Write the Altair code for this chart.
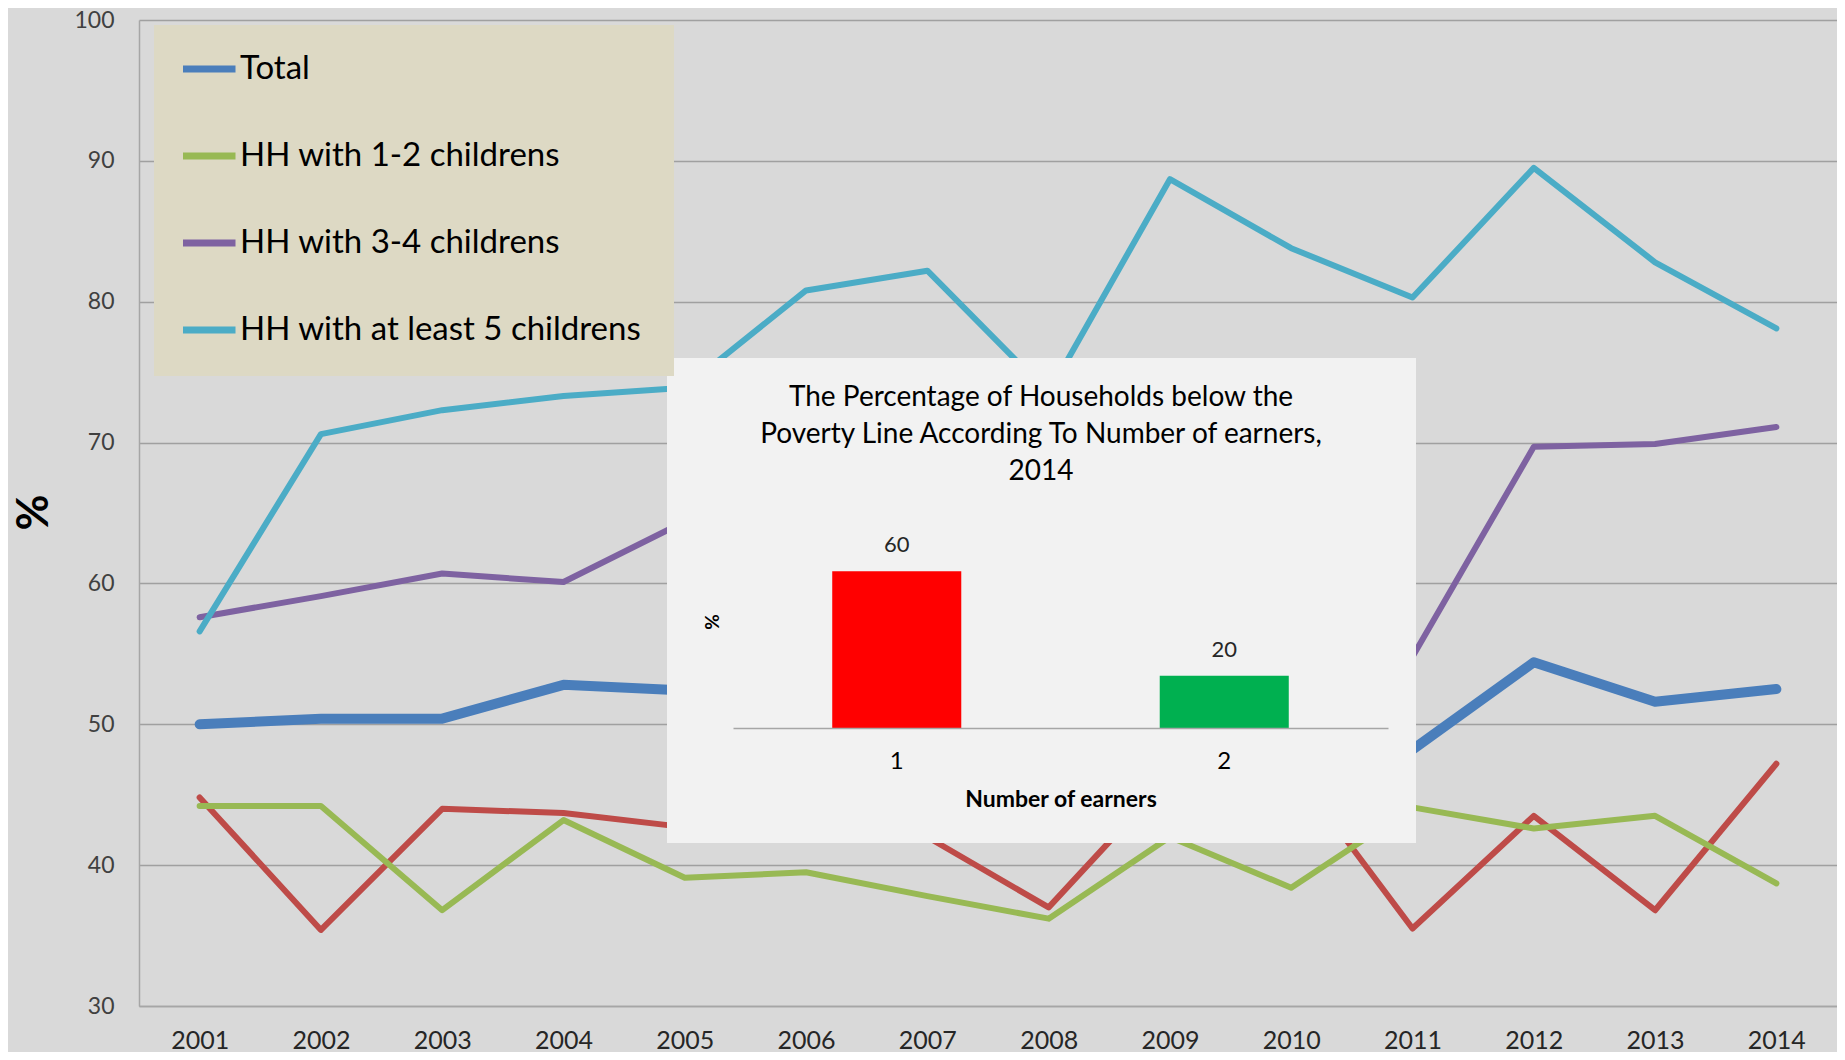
import altair as alt
import pandas as pd

# ---------------- data ----------------
years = [str(y) for y in range(2001, 2015)]
series_names = ["Total", "HH with 1-2 childrens", "HH with 3-4 childrens",
                "HH with at least 5 childrens"]
series_colors = ["#4A7EBB", "#98B954", "#7E62A1", "#4BACC6"]
series_widths = [10, 6, 6, 6]

total = [50.0, 50.4, 50.4, 52.8, 52.4, 53.0, 52.2, 51.0, 50.2, 49.3, 48.2, 54.4, 51.6, 52.5]
hh_1_2 = [44.2, 44.2, 36.8, 43.2, 39.1, 39.5, 37.8, 36.2, 42.0, 38.4, 44.1, 42.6, 43.5, 38.7]
hh_3_4 = [57.6, 59.1, 60.7, 60.1, 64.4, 65.5, 66.0, 62.5, 61.0, 58.5, 54.8, 69.7, 69.9, 71.1]
hh_5plus = [56.6, 70.6, 72.3, 73.3, 73.9, 80.8, 82.2, 73.5, 88.7, 83.8, 80.3, 89.5, 82.8, 78.1]
other_series = [44.8, 35.4, 44.0, 43.7, 42.7, 41.8, 42.0, 37.0, 46.3, 47.0, 35.5, 43.5, 36.8, 47.2]
other_color = "#BE4B48"

earners = ["1", "2"]
earner_pct = [60, 20]
earner_colors = ["#FF0000", "#00B050"]
inset_title = ("The Percentage of Households below the\n"
               "Poverty Line According To Number of earners,\n2014")

FONT = "Lato"
W, H = 1698, 986

main_df = pd.DataFrame({
    "year": years * len(series_names),
    "series": [s for s in series_names for _ in years],
    "value": total + hh_1_2 + hh_3_4 + hh_5plus,
})
red_df = pd.DataFrame({"year": years, "value": other_series})
bar_df = pd.DataFrame({"earners": earners, "pct": earner_pct})

# ---------------- main chart ----------------
x_main = alt.X("year:O", scale=alt.Scale(type="point", padding=0.5),
               axis=alt.Axis(labelAngle=0, ticks=False, domainColor="#A6A6A6",
                             domainWidth=1.5, labelPadding=22, labelFontSize=25,
                             labelFont=FONT, labelColor="#262626", grid=False,
                             title=None))
y_main = alt.Y("value:Q", scale=alt.Scale(domain=[30, 100], nice=False, zero=False),
               axis=alt.Axis(values=list(range(30, 101, 10)), grid=True,
                             gridColor="#A0A0A0", gridWidth=1.5,
                             domainColor="#A6A6A6", domainWidth=1.5, ticks=False,
                             labelPadding=25, labelFontSize=23, labelFont=FONT,
                             labelColor="#404040", title="%", titleFontSize=44,
                             titleFont=FONT, titleFontWeight="bold", titleAngle=270,
                             titleX=-105, titleY=492, titleBaseline="middle",
                             titleAlign="center", titleColor="black"))

leg = alt.Legend(orient="none", legendX=15, legendY=5, title=None,
                 symbolType="stroke", symbolSize=3025, symbolStrokeWidth=7,
                 symbolOffset=-6,
                 fillColor="#DDD9C4", padding=29, rowPadding=54, clipHeight=30,
                 labelFontSize=33, labelFont=FONT, labelColor="black",
                 labelOffset=1, labelLimit=0)

red_line = alt.Chart(red_df).mark_line(
    color=other_color, strokeWidth=6, strokeJoin="round", strokeCap="round"
).encode(x=x_main, y=y_main)

lines = alt.Chart(main_df).mark_line(strokeJoin="round", strokeCap="round").encode(
    x=x_main, y=y_main,
    color=alt.Color("series:N", sort=series_names,
                    scale=alt.Scale(domain=series_names, range=series_colors),
                    legend=leg),
    strokeWidth=alt.StrokeWidth("series:N", sort=series_names,
                                scale=alt.Scale(type="ordinal", domain=series_names,
                                                range=series_widths),
                                legend=leg),
)

main = alt.layer(red_line, lines)

# ---------------- inset ----------------
inset_bg = alt.Chart(alt.Data(values=[{}])).mark_rect(color="#F2F2F2").encode(
    x=alt.value(528), x2=alt.value(1277), y=alt.value(338), y2=alt.value(823))

x_in = alt.X("earners:N",
             scale=alt.Scale(range=[594, 1249], paddingInner=0.606, paddingOuter=0.303),
             axis=alt.Axis(orient="bottom", offset=-278, zindex=1, labelAngle=0,
                           ticks=False, domainColor="#A6A6A6", domainWidth=1.5,
                           labelPadding=21, labelFontSize=24, labelFont=FONT,
                           labelColor="black", title="Number of earners",
                           titleFont=FONT, titleFontSize=23, titleFontWeight="bold",
                           titlePadding=15, titleColor="black", grid=False))
y_in = alt.Y("pct:Q", scale=alt.Scale(domain=[0, 80], range=[708, 499]), axis=None)

bars = alt.Chart(bar_df).mark_bar().encode(
    x=x_in, y=y_in,
    color=alt.Color("earners:N", scale=alt.Scale(domain=earners, range=earner_colors),
                    legend=None))
bar_labels = alt.Chart(bar_df).mark_text(
    dy=-26, fontSize=22, font=FONT, color="#262626", baseline="middle"
).encode(x=x_in, y=y_in, text="pct:Q")

inset = alt.layer(bars, bar_labels)

inset_title_mark = alt.Chart(alt.Data(values=[{}])).mark_text(
    lineBreak="\n", lineHeight=37, fontSize=28, font=FONT, color="black",
    align="center", baseline="middle"
).encode(x=alt.value(902), y=alt.value(378), text=alt.value(inset_title))

inset_pct = alt.Chart(alt.Data(values=[{}])).mark_text(
    angle=270, fontSize=19, fontWeight="bold", font=FONT, color="black",
    align="center", baseline="middle"
).encode(x=alt.value(574), y=alt.value(602), text=alt.value("%"))

chart = alt.layer(main, inset_bg, inset, inset_title_mark, inset_pct).resolve_scale(
    x="independent", y="independent", color="independent"
).resolve_axis(x="independent", y="independent").properties(
    width=W, height=H, background="#D9D9D9",
    padding={"left": 131, "top": 12, "right": 0, "bottom": 46},
    autosize=alt.AutoSizeParams(type="none"),
).configure_view(stroke=None)

chart.save("out.html", embed_options={"renderer": "svg", "actions": False})
